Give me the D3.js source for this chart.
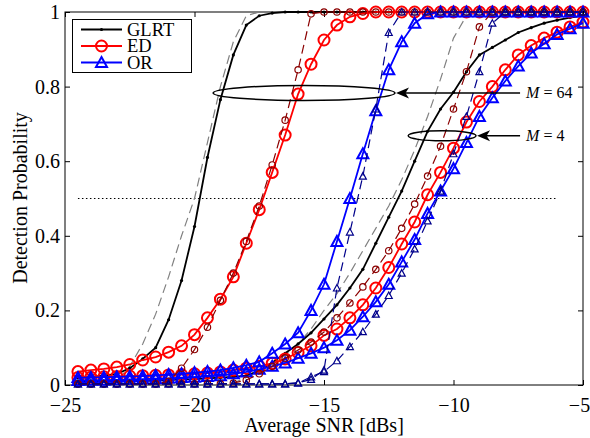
<!DOCTYPE html>
<html>
<head>
<meta charset="utf-8">
<script src="https://cdn.jsdelivr.net/npm/d3@7"></script>
<style>
body { margin: 0; background: #fff; }
text { font-family: "Liberation Serif", "Times New Roman", serif; fill: #000; }
</style>
</head>
<body>
<script>
// snr grid (dB), same for every curve
var snr = [-24.5, -24, -23.5, -23, -22.5, -22, -21.5, -21, -20.5, -20,
           -19.5, -19, -18.5, -18, -17.5, -17, -16.5, -16, -15.5, -15,
           -14.5, -14, -13.5, -13, -12.5, -12, -11.5, -11, -10.5, -10,
           -9.5, -9, -8.5, -8, -7.5, -7, -6.5, -6, -5.5, -5];

// M = 64
var glrtSim64 = [0.02, 0.022, 0.025, 0.03, 0.045, 0.07, 0.10, 0.175, 0.28, 0.425,
                 0.61, 0.765, 0.885, 0.965, 0.99, 0.997, 1, 1, 1, 1,
                 1, 1, 1, 1, 1, 1, 1, 1, 1, 1, 1, 1, 1, 1, 1, 1, 1, 1, 1, 1];
var glrtTh64 = [0, 0, 0, 0.01, 0.05, 0.11, 0.19, 0.29, 0.40, 0.50,
                0.65, 0.80, 0.92, 0.99, 1, 1, 1, 1, 1, 1,
                1, 1, 1, 1, 1, 1, 1, 1, 1, 1, 1, 1, 1, 1, 1, 1, 1, 1, 1, 1];
var edSim64 = [0.036, 0.04, 0.043, 0.048, 0.055, 0.067, 0.075, 0.088, 0.105, 0.135,
               0.18, 0.23, 0.29, 0.38, 0.47, 0.57, 0.67, 0.78, 0.86, 0.925,
               0.965, 0.987, 0.996, 1, 1, 1, 1, 1, 1, 1, 1, 1, 1, 1, 1, 1, 1, 1, 1, 1];
var edTh64 = [0.003, 0.003, 0.003, 0.003, 0.003, 0.003, 0.003, 0.01, 0.045, 0.095,
              0.155, 0.227, 0.30, 0.385, 0.48, 0.59, 0.71, 0.845, 0.995, 1,
              1, 1, 1, 1, 1, 1, 1, 1, 1, 1, 1, 1, 1, 1, 1, 1, 1, 1, 1, 1];
var orSim64 = [0.02, 0.02, 0.021, 0.022, 0.023, 0.024, 0.026, 0.028, 0.03, 0.033,
               0.036, 0.04, 0.046, 0.053, 0.062, 0.085, 0.11, 0.14, 0.20, 0.27,
               0.385, 0.50, 0.62, 0.735, 0.845, 0.92, 0.97, 0.995, 1, 1,
               1, 1, 1, 1, 1, 1, 1, 1, 1, 1];
var orTh64 = [0.003, 0.003, 0.003, 0.003, 0.003, 0.003, 0.003, 0.003, 0.003, 0.003,
              0.003, 0.003, 0.003, 0.003, 0.003, 0.003, 0.003, 0.006, 0.015, 0.04,
              0.26, 0.41, 0.56, 0.74, 0.945, 1, 1, 1, 1, 1,
              1, 1, 1, 1, 1, 1, 1, 1, 1, 1];

// M = 4
var glrtSim4 = [0.01, 0.01, 0.01, 0.01, 0.01, 0.011, 0.012, 0.013, 0.015, 0.016,
                0.018, 0.02, 0.022, 0.025, 0.038, 0.06, 0.085, 0.11, 0.14, 0.177,
                0.215, 0.26, 0.31, 0.38, 0.45, 0.52, 0.60, 0.68, 0.74, 0.785,
                0.84, 0.885, 0.905, 0.925, 0.945, 0.958, 0.97, 0.978, 0.985, 0.99];
var glrtTh4 = [0, 0, 0, 0, 0, 0, 0, 0, 0, 0,
               0, 0, 0.005, 0.02, 0.035, 0.055, 0.08, 0.11, 0.15, 0.20,
               0.245, 0.30, 0.36, 0.42, 0.48, 0.55, 0.63, 0.72, 0.82, 0.93,
               0.99, 1, 1, 1, 1, 1, 1, 1, 1, 1];
var edSim4 = [0.02, 0.021, 0.022, 0.023, 0.024, 0.025, 0.026, 0.027, 0.028, 0.03,
              0.032, 0.035, 0.04, 0.045, 0.05, 0.058, 0.07, 0.087, 0.105, 0.133,
              0.15, 0.18, 0.215, 0.26, 0.315, 0.378, 0.437, 0.51, 0.57, 0.635,
              0.705, 0.76, 0.80, 0.845, 0.885, 0.91, 0.93, 0.946, 0.96, 0.973];
var edTh4 = [0.003, 0.003, 0.003, 0.003, 0.003, 0.003, 0.003, 0.003, 0.003, 0.003,
             0.003, 0.003, 0.005, 0.013, 0.03, 0.05, 0.072, 0.094, 0.115, 0.142,
             0.18, 0.22, 0.263, 0.31, 0.36, 0.42, 0.485, 0.56, 0.64, 0.74,
             0.84, 0.96, 1, 1, 1, 1, 1, 1, 1, 1];
var orSim4 = [0.012, 0.013, 0.013, 0.014, 0.015, 0.016, 0.017, 0.018, 0.02, 0.021,
              0.023, 0.025, 0.03, 0.035, 0.042, 0.05, 0.059, 0.072, 0.085, 0.10,
              0.12, 0.147, 0.183, 0.223, 0.27, 0.33, 0.39, 0.46, 0.52, 0.58,
              0.65, 0.72, 0.77, 0.815, 0.855, 0.89, 0.915, 0.94, 0.955, 0.97];
var orTh4 = [0.003, 0.003, 0.003, 0.003, 0.003, 0.003, 0.003, 0.003, 0.003, 0.003,
             0.003, 0.003, 0.003, 0.003, 0.003, 0.003, 0.003, 0.005, 0.022, 0.036,
             0.065, 0.103, 0.143, 0.19, 0.24, 0.30, 0.365, 0.44, 0.52, 0.62,
             0.72, 0.84, 0.97, 1, 1, 1, 1, 1, 1, 1];

var xTicks = [-25, -20, -15, -10, -5];
var yTicks = [0, 0.2, 0.4, 0.6, 0.8, 1];
var legendNames = ['GLRT', 'ED', 'OR'];

var svg = d3.select('body').append('svg').attr('width', 590).attr('height', 438);

var x = d3.scaleLinear().domain([-25, -5]).range([65, 583]);
var y = d3.scaleLinear().domain([0, 1]).range([385, 12]);
var fmt = d3.format('~g');

// axes, ticks pointing in
var gx = svg.append('g').attr('transform', 'translate(0,385)')
  .call(d3.axisBottom(x).tickValues(xTicks).tickFormat(fmt).tickSizeInner(-5).tickSizeOuter(0).tickPadding(13));
var gxt = svg.append('g').attr('transform', 'translate(0,12)')
  .call(d3.axisTop(x).tickValues(xTicks).tickFormat('').tickSizeInner(-5).tickSizeOuter(0));
var gy = svg.append('g').attr('transform', 'translate(65,0)')
  .call(d3.axisLeft(y).tickValues(yTicks).tickFormat(fmt).tickSizeInner(-5).tickSizeOuter(0).tickPadding(5));
var gyr = svg.append('g').attr('transform', 'translate(583,0)')
  .call(d3.axisRight(y).tickValues(yTicks).tickFormat('').tickSizeInner(-5).tickSizeOuter(0));
svg.selectAll('.domain').remove();
svg.selectAll('.tick line').attr('stroke', '#000');
svg.selectAll('.tick text').attr('font-size', 20);
// last x label sits against the right edge
gx.selectAll('.tick text').filter(function(d) { return d === -5; }).attr('dx', -4);

svg.append('rect').attr('x', 65).attr('y', 12).attr('width', 518).attr('height', 373)
  .attr('fill', 'none').attr('stroke', '#000').attr('stroke-width', 1);

svg.append('text').attr('x', 324).attr('y', 432).attr('text-anchor', 'middle')
  .attr('font-size', 20).text('Average SNR [dBs]');
svg.append('text').attr('transform', 'translate(27,198) rotate(-90)').attr('text-anchor', 'middle')
  .attr('font-size', 20).text('Detection Probability');

// Pd = 0.5 reference
svg.append('line').attr('x1', x(-24.5)).attr('x2', x(-6)).attr('y1', y(0.5)).attr('y2', y(0.5))
  .attr('stroke', '#000').attr('stroke-width', 1).attr('stroke-dasharray', '1.5,2.5');

var triBig = 'M0,-5.5L5.5,4.5L-5.5,4.5Z';
var triSmall = 'M0,-3.5L3.5,3L-3.5,3Z';

var series = [
  {v: glrtTh64, c: '#808080', dash: '9,5', w: 1.2},
  {v: glrtTh4, c: '#808080', dash: '9,5', w: 1.2},
  {v: glrtSim64, c: '#000', w: 1.8, m: 'dot'},
  {v: glrtSim4, c: '#000', w: 1.8, m: 'dot'},
  {v: edSim64, c: '#ff0000', w: 1.8, m: 'circle', r: 5.5, mw: 2},
  {v: edSim4, c: '#ff0000', w: 1.8, m: 'circle', r: 5.5, mw: 2},
  {v: orSim64, c: '#0000ff', w: 1.8, m: 'tri', p: triBig, mw: 2},
  {v: orSim4, c: '#0000ff', w: 1.8, m: 'tri', p: triBig, mw: 2},
  {v: edTh64, c: '#8b0000', dash: '9,5', w: 1.2, m: 'circle', r: 3.2, mw: 1.2},
  {v: edTh4, c: '#8b0000', dash: '9,5', w: 1.2, m: 'circle', r: 3.2, mw: 1.2},
  {v: orTh64, c: '#00008b', dash: '9,5', w: 1.2, m: 'tri', p: triSmall, mw: 1.2},
  {v: orTh4, c: '#00008b', dash: '9,5', w: 1.2, m: 'tri', p: triSmall, mw: 1.2}
];

var line = d3.line().x(function(d, i) { return x(snr[i]); }).y(function(d) { return y(d); });

series.forEach(function(s) {
  var g = svg.append('g');
  g.append('path').attr('d', line(s.v)).attr('fill', 'none').attr('stroke', s.c)
    .attr('stroke-width', s.w).attr('stroke-dasharray', s.dash || null);
  var pts = g.selectAll('.pt').data(s.v).enter();
  if (s.m === 'dot') {
    pts.append('circle').attr('cx', function(d, i) { return x(snr[i]); }).attr('cy', function(d) { return y(d); })
      .attr('r', 1.6).attr('fill', s.c);
  } else if (s.m === 'circle') {
    pts.append('circle').attr('cx', function(d, i) { return x(snr[i]); }).attr('cy', function(d) { return y(d); })
      .attr('r', s.r).attr('fill', 'none').attr('stroke', s.c).attr('stroke-width', s.mw);
  } else if (s.m === 'tri') {
    pts.append('path').attr('d', s.p)
      .attr('transform', function(d, i) { return 'translate(' + x(snr[i]) + ',' + y(d) + ')'; })
      .attr('fill', 'none').attr('stroke', s.c).attr('stroke-width', s.mw);
  }
});

// annotations: ellipse around curve group + arrow + label
function annotate(cx, cy, rxDb, ryP, head, tail, label) {
  svg.append('ellipse').attr('cx', x(cx)).attr('cy', y(cy))
    .attr('rx', x(cx + rxDb) - x(cx)).attr('ry', y(cy) - y(cy + ryP))
    .attr('fill', 'none').attr('stroke', '#000').attr('stroke-width', 1.5);
  var hx = x(head), yy = y(cy);
  svg.append('line').attr('x1', x(tail)).attr('x2', hx + 8).attr('y1', yy).attr('y2', yy)
    .attr('stroke', '#000').attr('stroke-width', 1.5);
  svg.append('path').attr('d', 'M' + hx + ',' + yy + 'l13,-5.5l-3.5,5.5l3.5,5.5z').attr('fill', '#000');
  var t = svg.append('text').attr('x', x(tail) + 6).attr('y', yy + 5).attr('font-size', 16).attr('fill', '#222');
  t.append('tspan').attr('font-style', 'italic').text('M');
  t.append('tspan').text(' = ' + label);
}
annotate(-15.77, 0.783, 3.51, 0.02, -12.22, -7.43, '64');
annotate(-10.44, 0.668, 1.31, 0.0134, -9.09, -7.43, '4');

// legend
var leg = svg.append('g');
leg.append('rect').attr('x', 72.5).attr('y', 19.5).attr('width', 119).attr('height', 53)
  .attr('fill', '#fff').attr('stroke', '#000').attr('stroke-width', 1);
var legColors = ['#000', '#ff0000', '#0000ff'];
legendNames.forEach(function(n, i) {
  var ly = 29.5 + i * 16.5;
  leg.append('line').attr('x1', 81).attr('x2', 122).attr('y1', ly).attr('y2', ly)
    .attr('stroke', legColors[i]).attr('stroke-width', 1.8);
  if (i === 0) leg.append('circle').attr('cx', 101.5).attr('cy', ly).attr('r', 1.6).attr('fill', '#000');
  if (i === 1) leg.append('circle').attr('cx', 101.5).attr('cy', ly).attr('r', 5.5)
    .attr('fill', 'none').attr('stroke', legColors[i]).attr('stroke-width', 2);
  if (i === 2) leg.append('path').attr('d', triBig).attr('transform', 'translate(101.5,' + ly + ')')
    .attr('fill', 'none').attr('stroke', legColors[i]).attr('stroke-width', 2);
  leg.append('text').attr('x', 127).attr('y', ly + 6).attr('font-size', 18.5).text(n);
});
</script>
</body>
</html>
